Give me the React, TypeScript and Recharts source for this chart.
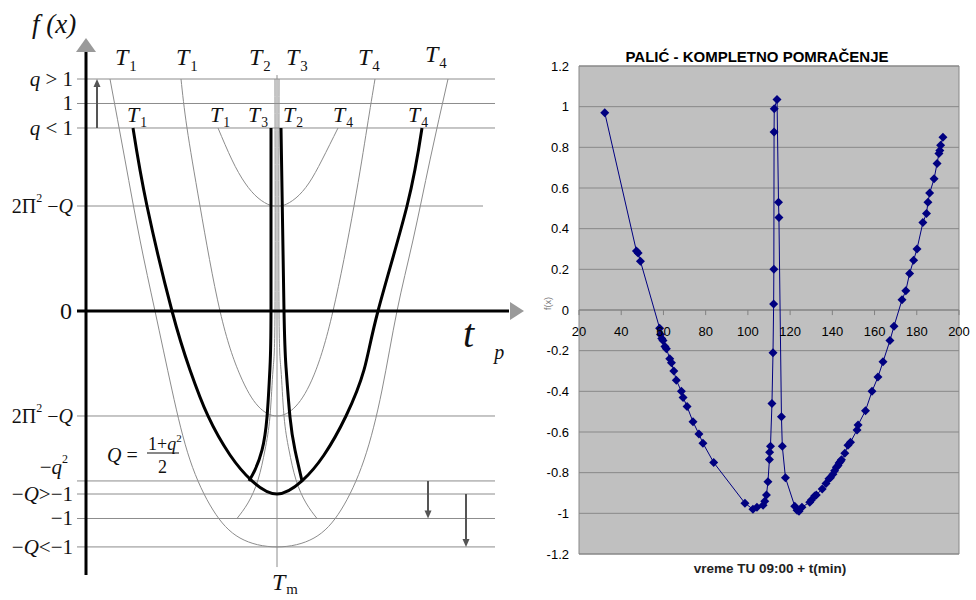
import React from "react";
import {
  LineChart,
  Line,
  XAxis,
  YAxis,
  CartesianGrid,
  ReferenceLine,
  ReferenceDot,
  ReferenceArea,
} from "recharts";

type Pt = { t: number; f: number };

const outerThin: Pt[] = [
  { t: -1.67, f: 1.118 }, { t: -1.52, f: 0.728 }, { t: -1.37, f: 0.342 }, { t: -1.22, f: 0 },
  { t: -1.05, f: -0.381 }, { t: -0.87, f: -0.718 }, { t: -0.64, f: -0.959 }, { t: -0.37, f: -1.094 },
  { t: 0, f: -1.137 }, { t: 0.37, f: -1.094 }, { t: 0.64, f: -0.959 }, { t: 0.87, f: -0.718 },
  { t: 1.05, f: -0.381 }, { t: 1.2, f: 0 }, { t: 1.36, f: 0.342 }, { t: 1.53, f: 0.728 }, { t: 1.71, f: 1.118 },
];

const innerThin: Pt[] = [
  { t: -0.96, f: 1.118 }, { t: -0.9, f: 0.882 }, { t: -0.77, f: 0.506 }, { t: -0.57, f: 0 },
  { t: -0.37, f: -0.308 }, { t: -0.19, f: -0.458 }, { t: 0, f: -0.506 }, { t: 0.19, f: -0.458 },
  { t: 0.37, f: -0.308 }, { t: 0.56, f: 0 }, { t: 0.77, f: 0.506 }, { t: 0.9, f: 0.882 }, { t: 0.98, f: 1.118 },
];

const upperThin: Pt[] = [
  { t: -0.59, f: 0.882 }, { t: -0.45, f: 0.728 }, { t: -0.32, f: 0.617 }, { t: -0.19, f: 0.545 },
  { t: -0.07, f: 0.51 }, { t: 0, f: 0.506 }, { t: 0.07, f: 0.51 }, { t: 0.19, f: 0.545 },
  { t: 0.32, f: 0.617 }, { t: 0.45, f: 0.728 }, { t: 0.61, f: 0.882 },
];

const boldParabola: Pt[] = [
  { t: -1.44, f: 0.882 }, { t: -1.3, f: 0.506 }, { t: -1.05, f: 0 }, { t: -0.87, f: -0.284 },
  { t: -0.69, f: -0.506 }, { t: -0.47, f: -0.694 }, { t: -0.25, f: -0.819 }, { t: 0, f: -0.882 },
  { t: 0.25, f: -0.819 }, { t: 0.47, f: -0.694 }, { t: 0.69, f: -0.506 }, { t: 0.87, f: -0.284 },
  { t: 1.01, f: 0 }, { t: 1.3, f: 0.506 }, { t: 1.45, f: 0.882 },
];

const boldLeft: Pt[] = [
  { t: -0.06, f: 0.882 }, { t: -0.06, f: 0 }, { t: -0.07, f: -0.27 }, { t: -0.1, f: -0.511 },
  { t: -0.15, f: -0.67 }, { t: -0.22, f: -0.766 }, { t: -0.28, f: -0.819 },
];

const boldRight: Pt[] = [
  { t: 0.04, f: 0.882 }, { t: 0.07, f: 0 }, { t: 0.09, f: -0.27 }, { t: 0.13, f: -0.511 },
  { t: 0.18, f: -0.67 }, { t: 0.25, f: -0.819 },
];

const cuspLeft: Pt[] = [
  { t: -0.02, f: 1.118 }, { t: -0.02, f: 0 }, { t: -0.04, f: -0.284 }, { t: -0.07, f: -0.506 },
  { t: -0.12, f: -0.67 }, { t: -0.19, f: -0.814 }, { t: -0.29, f: -0.925 }, { t: -0.4, f: -1.0 },
];

const cuspRight: Pt[] = [
  { t: 0.02, f: 1.118 }, { t: 0.02, f: 0 }, { t: 0.04, f: -0.284 }, { t: 0.07, f: -0.506 },
  { t: 0.12, f: -0.67 }, { t: 0.19, f: -0.814 }, { t: 0.29, f: -0.925 }, { t: 0.4, f: -1.0 },
];

const levels = [1.118, 1.0, 0.882, 0.506, -0.506, -0.819, -0.882, -1.0, -1.137];

// ---------- right: PALIĆ measurements
const minutes = [
  32.2, 47.2, 48.0, 49.1, 58.2, 58.6, 59.2, 59.8, 60.7, 61.4, 63.0, 63.8, 64.9, 66.1, 68.5, 69.3,
  71.2, 74.0, 76.8, 78.7, 83.8, 98.6, 102.4, 104.3, 107.2, 108.0, 108.8, 109.5, 110.2, 110.3, 110.7,
  111.4, 111.9, 112.2, 112.3, 112.4, 112.5, 113.8, 114.5, 114.7, 115.9, 116.3, 117.8, 122.2, 123.3,
  124.2, 125.6, 129.3, 130.1, 131.6, 132.4, 135.2, 137.0, 138.4, 139.1, 140.3, 141.1, 141.9, 142.7,
  143.2, 143.8, 144.3, 145.9, 147.4, 148.6, 151.7, 152.2, 155.7, 158.8, 161.6, 164.0, 167.3, 169.2,
  173.0, 174.8, 176.6, 178.5, 180.1, 182.9, 184.6, 185.3, 186.1, 188.2, 189.6, 190.5, 190.9, 191.3, 192.4,
];
const fx = [
  0.97, 0.29, 0.28, 0.24, -0.09, -0.12, -0.14, -0.15, -0.18, -0.19, -0.24, -0.26, -0.3, -0.345, -0.4, -0.43,
  -0.475, -0.55, -0.61, -0.655, -0.75, -0.95, -0.98, -0.97, -0.96, -0.94, -0.91, -0.845, -0.735, -0.7, -0.67,
  -0.46, -0.21, 0.03, 0.2, 0.875, 0.99, 1.035, 0.53, 0.455, -0.525, -0.67, -0.825, -0.965, -0.985,
  -0.99, -0.97, -0.945, -0.935, -0.915, -0.91, -0.88, -0.853, -0.83, -0.825, -0.808, -0.79, -0.773, -0.765,
  -0.753, -0.745, -0.737, -0.705, -0.665, -0.65, -0.59, -0.565, -0.495, -0.4, -0.33, -0.255, -0.15, -0.08,
  0.05, 0.095, 0.18, 0.245, 0.3, 0.43, 0.475, 0.53, 0.575, 0.645, 0.72, 0.77, 0.785, 0.81, 0.85,
];
const xTicks = [20, 40, 60, 80, 100, 120, 140, 160, 180, 200];
const yTicks = [-1.2, -1, -0.8, -0.6, -0.4, -0.2, 0, 0.2, 0.4, 0.6, 0.8, 1, 1.2];

const palic = minutes.map((t, i) => ({ t, f: fx[i] }));

const serif = "'Liberation Serif', 'DejaVu Serif', serif";
const sans = "'Liberation Sans', Arial, sans-serif";
const thin = "#8c8c8c";

const T = (sub: string, size = 24, subDrop = 0.25) => (p: any) => (
  <text x={p.cx} y={p.cy} fontFamily={serif} fontSize={size} fill="#111">
    <tspan fontStyle="italic">T</tspan>
    <tspan fontSize={size * 0.62} dy={size * subDrop} dx={1}>{sub}</tspan>
  </text>
);

const yLabel = (content: React.ReactNode, size = 21) => (p: any) => (
  <text x={p.cx} y={p.cy} fontFamily={serif} fontSize={size} fill="#111" textAnchor="end" dominantBaseline="central">
    {content}
  </text>
);

const twoPiQ = (
  <>
    <tspan>2Π</tspan>
    <tspan fontSize={12} dy={-8}>2</tspan>
    <tspan dy={8}> −</tspan>
    <tspan fontStyle="italic">Q</tspan>
  </>
);

const Diamond = (p: any) => {
  const { cx, cy, index } = p;
  if (cx == null || cy == null) return <g key={index} />;
  const s = 4.5;
  return (
    <path
      key={index}
      d={`M${cx},${cy - s}L${cx + s},${cy}L${cx},${cy + s}L${cx - s},${cy}Z`}
      fill="#000080"
    />
  );
};

const curve = (data: Pt[], color: string, width: number, key: string) => (
  <Line
    key={key}
    data={data}
    dataKey="f"
    type="natural"
    stroke={color}
    strokeWidth={width}
    dot={false}
    activeDot={false}
    isAnimationActive={false}
  />
);

function Schematic() {
  return (
    <LineChart width={540} height={600} margin={{ top: 0, right: 0, bottom: 0, left: 0 }}>
      <XAxis type="number" dataKey="t" domain={[-2.77, 2.63]} hide allowDataOverflow />
      <YAxis type="number" domain={[-1.3928, 1.4988]} hide allowDataOverflow />
      {levels.map((f) => (
        <ReferenceLine
          key={f}
          segment={[{ x: -2.0, y: f }, { x: f === 0.506 ? 2.06 : 2.18, y: f }]}
          stroke={thin}
          strokeWidth={1}
        />
      ))}
      <ReferenceLine segment={[{ x: 0, y: 1.137 }, { x: 0, y: -1.234 }]} stroke={thin} strokeWidth={1} />
      {curve(outerThin, thin, 1, "outer")}
      {curve(innerThin, thin, 1, "inner")}
      {curve(upperThin, thin, 1, "upper")}
      {curve(cuspLeft, thin, 1, "cuspL")}
      {curve(cuspRight, thin, 1, "cuspR")}
      {curve(boldParabola, "#000", 3, "boldP")}
      {curve(boldLeft, "#000", 3, "boldL")}
      {curve(boldRight, "#000", 3, "boldR")}

      {/* axes */}
      <ReferenceLine segment={[{ x: -1.91, y: 1.248 }, { x: -1.91, y: -1.272 }]} stroke="#000" strokeWidth={3} />
      <ReferenceLine segment={[{ x: -2.0, y: 0 }, { x: 2.32, y: 0 }]} stroke="#000" strokeWidth={3} />
      <ReferenceDot x={-1.91} y={1.248} shape={(p: any) => (
        <polygon points={`${p.cx - 10},${p.cy} ${p.cx + 10},${p.cy} ${p.cx},${p.cy - 14}`} fill="#9a9a9a" />
      )} />
      <ReferenceDot x={2.33} y={0} shape={(p: any) => (
        <polygon points={`${p.cx},${p.cy - 9} ${p.cx},${p.cy + 9} ${p.cx + 14},${p.cy}`} fill="#9a9a9a" />
      )} />

      {/* arrows */}
      <ReferenceLine segment={[{ x: -1.8, y: 0.882 }, { x: -1.8, y: 1.09 }]} stroke="#555" strokeWidth={2} />
      <ReferenceDot x={-1.8} y={1.118} shape={(p: any) => (
        <polygon points={`${p.cx - 3.5},${p.cy + 8} ${p.cx + 3.5},${p.cy + 8} ${p.cx},${p.cy}`} fill="#555" />
      )} />
      <ReferenceLine segment={[{ x: 1.51, y: -0.819 }, { x: 1.51, y: -0.97 }]} stroke="#555" strokeWidth={2} />
      <ReferenceDot x={1.51} y={-1.0} shape={(p: any) => (
        <polygon points={`${p.cx - 3.5},${p.cy - 8} ${p.cx + 3.5},${p.cy - 8} ${p.cx},${p.cy}`} fill="#555" />
      )} />
      <ReferenceLine segment={[{ x: 1.89, y: -0.882 }, { x: 1.89, y: -1.11 }]} stroke="#555" strokeWidth={2} />
      <ReferenceDot x={1.89} y={-1.137} shape={(p: any) => (
        <polygon points={`${p.cx - 3.5},${p.cy - 8} ${p.cx + 3.5},${p.cy - 8} ${p.cx},${p.cy}`} fill="#555" />
      )} />

      {/* labels */}
      <ReferenceDot x={-2.45} y={1.34} shape={(p: any) => (
        <text x={p.cx} y={p.cy} fontFamily={serif} fontSize={27} fontStyle="italic" fill="#111">f (x)</text>
      )} />
      <ReferenceDot x={-1.62} y={1.186} shape={T("1")} />
      <ReferenceDot x={-1.01} y={1.186} shape={T("1")} />
      <ReferenceDot x={-0.28} y={1.186} shape={T("2")} />
      <ReferenceDot x={0.09} y={1.186} shape={T("3")} />
      <ReferenceDot x={0.81} y={1.186} shape={T("4")} />
      <ReferenceDot x={1.48} y={1.2} shape={T("4")} />
      <ReferenceDot x={-1.5} y={0.911} shape={T("1", 22)} />
      <ReferenceDot x={-0.67} y={0.911} shape={T("1", 22)} />
      <ReferenceDot x={-0.29} y={0.911} shape={T("3", 22)} />
      <ReferenceDot x={0.06} y={0.911} shape={T("2", 22)} />
      <ReferenceDot x={0.56} y={0.911} shape={T("4", 22)} />
      <ReferenceDot x={1.31} y={0.911} shape={T("4", 22)} />

      <ReferenceDot x={-2.04} y={1.118} shape={yLabel(<><tspan fontStyle="italic">q</tspan> &gt; 1</>)} />
      <ReferenceDot x={-2.04} y={1.0} shape={yLabel("1")} />
      <ReferenceDot x={-2.04} y={0.882} shape={yLabel(<><tspan fontStyle="italic">q</tspan> &lt; 1</>)} />
      <ReferenceDot x={-2.04} y={0.506} shape={yLabel(twoPiQ, 20)} />
      <ReferenceDot x={-2.05} y={0} shape={yLabel("0", 24)} />
      <ReferenceDot x={-2.04} y={-0.506} shape={yLabel(twoPiQ, 20)} />
      <ReferenceDot x={-2.09} y={-0.752} shape={yLabel(
        <><tspan>−</tspan><tspan fontStyle="italic">q</tspan><tspan fontSize={12} dy={-8}>2</tspan></>
      )} />
      <ReferenceDot x={-2.04} y={-0.882} shape={yLabel(
        <><tspan>−</tspan><tspan fontStyle="italic">Q</tspan><tspan>&gt;−1</tspan></>
      )} />
      <ReferenceDot x={-2.04} y={-1.0} shape={yLabel("−1")} />
      <ReferenceDot x={-2.04} y={-1.137} shape={yLabel(
        <><tspan>−</tspan><tspan fontStyle="italic">Q</tspan><tspan>&lt;−1</tspan></>
      )} />

      <ReferenceDot x={-1.7} y={-0.694} shape={(p: any) => (
        <g fontFamily={serif} fill="#111">
          <text x={p.cx} y={p.cy} fontSize={20} dominantBaseline="central">
            <tspan fontStyle="italic">Q</tspan> =
          </text>
          <text x={p.cx + 41} y={p.cy - 5} fontSize={18}>
            1+<tspan fontStyle="italic">q</tspan><tspan fontSize={11} dy={-8}>2</tspan>
          </text>
          <line x1={p.cx + 40} x2={p.cx + 72} y1={p.cy - 2} y2={p.cy - 2} stroke="#111" strokeWidth={1} />
          <text x={p.cx + 51} y={p.cy + 18} fontSize={18}>2</text>
        </g>
      )} />

      <ReferenceDot x={1.86} y={-0.173} shape={(p: any) => (
        <text x={p.cx} y={p.cy} fontFamily={serif} fill="#111">
          <tspan fontSize={40} fontStyle="italic">t</tspan>
          <tspan fontSize={20} fontStyle="italic" dx={20} dy={12}>p</tspan>
        </text>
      )} />
      <ReferenceDot x={-0.05} y={-1.345} shape={T("m", 24, 0.18)} />
    </LineChart>
  );
}

function Palic() {
  return (
    <LineChart width={456} height={570} margin={{ top: 36, right: 17, bottom: 46, left: 14 }}>
      <CartesianGrid vertical={false} stroke="#888" fill="#c0c0c0" />
      <XAxis type="number" dataKey="t" domain={[20, 200]} hide allowDataOverflow />
      <YAxis
        type="number"
        domain={[-1.2, 1.2]}
        ticks={yTicks}
        width={45}
        axisLine={false}
        tickLine={false}
        tickSize={6}
        tickMargin={4}
        interval={0}
        tickFormatter={(v: number) => String(Number(v.toFixed(1)))}
        tick={{ fill: "#000", fontSize: 13, fontFamily: sans }}
        label={{ value: "f(x)", angle: -90, position: "insideLeft", offset: 14, fontSize: 9, fill: "#777", fontFamily: sans }}
      />
      <ReferenceArea x1={20} x2={200} y1={-1.2} y2={1.2} fill="none" stroke="#888" />
      <ReferenceLine y={0} stroke="#808080" strokeWidth={1} />
      {xTicks.map((v) => (
        <ReferenceLine
          key={v}
          segment={[{ x: v, y: 0 }, { x: v, y: -0.025 }]}
          stroke="#808080"
          label={{ value: String(v), position: "bottom", offset: 12, fill: "#000", fontSize: 13, fontFamily: sans }}
        />
      ))}
      <Line
        data={palic}
        dataKey="f"
        type="linear"
        stroke="#000080"
        strokeWidth={1}
        dot={Diamond}
        activeDot={false}
        isAnimationActive={false}
      />
    </LineChart>
  );
}

export default function App() {
  return (
    <div style={{ position: "absolute", left: 0, top: 0, width: 976, height: 600, background: "#fff", overflow: "hidden" }}>
      <div style={{ position: "absolute", left: 0, top: 0 }}>
        <Schematic />
      </div>
      <div style={{ position: "absolute", left: 520, top: 30 }}>
        <Palic />
      </div>
      <div
        style={{
          position: "absolute", left: 557, top: 48, width: 400, textAlign: "center",
          fontFamily: sans, fontWeight: 700, fontSize: 15, lineHeight: "17px", color: "#000",
        }}
      >
        PALIĆ - KOMPLETNO POMRAČENJE
      </div>
      <div
        style={{
          position: "absolute", left: 620, top: 561, width: 300, textAlign: "center",
          fontFamily: sans, fontWeight: 700, fontSize: 13.5, lineHeight: "16px", color: "#222",
        }}
      >
        vreme TU 09:00 + t(min)
      </div>
    </div>
  );
}
